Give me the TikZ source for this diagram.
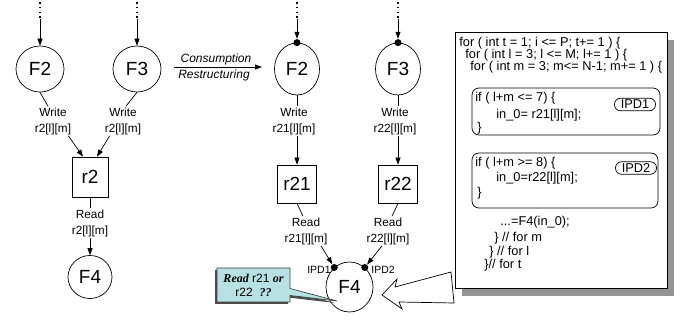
\documentclass[tikz,border=0pt]{standalone}
\usepackage{fontspec}
\setmainfont{Liberation Sans}
\newfontfamily\timesfont{Liberation Serif}
\usetikzlibrary{arrows.meta,shapes.geometric,shapes.callouts,shadows,calc}
\definecolor{callfill}{HTML}{B7E1E2}
\begin{document}
\begin{tikzpicture}[x=1pt,y=-1pt, line width=0.7pt,
  fn/.style={draw, ellipse, inner sep=0pt, font=\fontsize{19}{21}\selectfont},
  reg/.style={draw, rectangle, inner sep=0pt, font=\fontsize{19}{21}\selectfont},
  lbl/.style={align=center, inner sep=1pt, font=\fontsize{11.8}{16}\selectfont},
  arr/.style={-{Triangle[length=7pt,width=5pt]}},
  dotnode/.style={circle, fill=black, inner sep=0pt, minimum size=7pt},
  dots/.style={line width=1.6pt, dash pattern=on 1.6pt off 3.2pt},
  small/.style={inner sep=0pt, font=\fontsize{10.5}{12}\selectfont},
  codeline/.style={anchor=west, inner sep=0pt, font=\fontsize{12.8}{14}\selectfont},
  pill/.style={draw, rounded corners=6pt, inner sep=1pt, minimum width=41pt, minimum height=12.5pt, font=\fontsize{12.8}{14}\selectfont},
  ifbox/.style={draw, rounded corners=7pt, inner sep=0pt}
]
\useasboundingbox (0,0) rectangle (683,320);

% ---------- left graph ----------
\node[fn, minimum width=48pt, minimum height=46pt] (F2L) at (40,69) {F2};
\node[fn, minimum width=48pt, minimum height=46pt] (F3L) at (137,69) {F3};
\node[reg, minimum width=36pt, minimum height=40pt] (r2) at (90,177) {r2};
\node[fn, minimum width=44pt, minimum height=43pt] (F4L) at (90,277) {F4};
\node[lbl] (wl1) at (53,121) {Write\\r2[l][m]};
\node[lbl] (wl2) at (123,121) {Write\\r2[l][m]};
\node[lbl] (rl) at (90,223) {Read\\r2[l][m]};

\coordinate (tL1a) at (40,2); \coordinate (tL1) at (40,19);
\coordinate (tL2a) at (137,2); \coordinate (tL2) at (137,19);
\draw[dots] (tL1a) -- (tL1);
\draw[dots] (tL2a) -- (tL2);
\draw[arr] (tL1) -- (F2L.north);
\draw[arr] (tL2) -- (F3L.north);
\draw (F2L.south) -- ([xshift=-5pt]wl1.north);
\draw[arr] ([xshift=-4pt]wl1.south east) -- ([xshift=-7pt]r2.north);
\draw (F3L.south) -- ([xshift=3pt]wl2.north);
\draw[arr] ([xshift=6pt]wl2.south west) -- ([xshift=7pt]r2.north);
\draw (r2.south) -- (rl.north);
\draw[arr] (rl.south) -- (F4L.north);

% ---------- transformation arrow ----------
\coordinate (c1) at (174,67);
\coordinate (c2) at (262,67);
\draw[arr] (c1) -- (c2);
\node[inner sep=0pt, font=\itshape\fontsize{12}{14}\selectfont] (cons) at (216,59.5) {Consumption};
\node[inner sep=0pt, font=\itshape\fontsize{12}{14}\selectfont] (rest) at (214,75.5) {Restructuring};

% ---------- right graph ----------
\node[fn, minimum width=45pt, minimum height=52pt] (F2M) at (297,69) {F2};
\node[fn, minimum width=45pt, minimum height=52pt] (F3M) at (398,69) {F3};
\node[reg, minimum width=39pt, minimum height=38pt] (r21) at (297,184) {r21};
\node[reg, minimum width=39pt, minimum height=38pt] (r22) at (398,184) {r22};
\node[lbl] (wm1) at (294,121) {Write\\r21[l][m]};
\node[lbl] (wm2) at (395,121) {Write\\r22[l][m]};
\node[lbl] (rm1) at (306,231) {Read\\r21[l][m]};
\node[lbl] (rm2) at (388,231) {Read\\r22[l][m]};
\node[fn, minimum width=47pt, minimum height=50pt] (F4M) at (349.5,287) {F4};

\node[dotnode] (dF2) at (F2M.north) {};
\node[dotnode] (dF3) at (F3M.north) {};
\node[dotnode] (d1) at (F4M.128) {};
\node[dotnode] (d2) at (F4M.52) {};
\node[small, anchor=east] (ipd1) at (331,270) {IPD1};
\node[small, anchor=west] (ipd2) at (371,270) {IPD2};

\coordinate (tM1a) at (297,2); \coordinate (tM1) at (297,19);
\coordinate (tM2a) at (398,2); \coordinate (tM2) at (398,19);
\draw[dots] (tM1a) -- (tM1);
\draw[dots] (tM2a) -- (tM2);
\draw[arr] (tM1) -- (dF2);
\draw[arr] (tM2) -- (dF3);
\draw (F2M.south) -- ([xshift=3pt]wm1.north);
\draw[arr] ([xshift=3pt]wm1.south) -- (r21.north);
\draw (F3M.south) -- ([xshift=3pt]wm2.north);
\draw[arr] ([xshift=3pt]wm2.south) -- (r22.north);
\draw (r21.south) -- ([xshift=-3pt]rm1.north);
\draw[arr] ([xshift=15pt]rm1.south) -- (d1);
\draw (r22.south) -- ([xshift=4pt]rm2.north);
\draw[arr] ([xshift=-6pt]rm2.south) -- (d2);

% ---------- callout ----------
\coordinate (ptip) at ($(F4M.center)+(-12.5,14)$);
\node[rectangle callout, draw=black!75, fill=callfill, callout absolute pointer={(ptip)},
      callout pointer width=7pt, minimum width=73pt, minimum height=34pt, inner sep=0pt,
      align=center, font=\fontsize{12}{14}\selectfont,
      drop shadow={shadow xshift=-2pt, shadow yshift=-2pt, fill=black!70, opacity=1}]
      (call) at (253.5,285)
      {{\timesfont\bfseries\itshape Read} r21 {\timesfont\bfseries\itshape or}\\r22\ \ {\timesfont\bfseries\itshape ??}};

% ---------- hollow arrow ----------
\draw[fill=white] (382,295) -- (397,279) -- (395,287) -- (451,272) -- (454,303) -- (399,302) -- (402,309) -- cycle;

% ---------- code box ----------
\node[draw, fill=white, minimum width=212pt, minimum height=256pt, inner sep=0pt,
      drop shadow={shadow xshift=7pt, shadow yshift=-8pt, fill=black!42, opacity=1}]
      (code) at (561,160) {};
\node[codeline] (l1) at (459,43) {for ( int t = 1; i <= P; t+= 1 ) \{};
\node[codeline] (l2) at (465,55) {for ( int l = 3; l <= M; l+= 1 ) \{};
\node[codeline] (l3) at (470,67) {for ( int m = 3; m<= N-1; m+= 1 ) \{};
\node[ifbox, minimum width=188pt, minimum height=47pt] (b1) at (566,111.5) {};
\node[codeline] (l4) at (475,98) {if ( l+m <= 7) \{};
\node[codeline] (l5) at (496,115) {in\_0= r21[l][m];};
\node[codeline] (l6) at (477,128) {\}};
\node[pill] (p1) at (635,104.5) {IPD1};
\node[ifbox, minimum width=186pt, minimum height=55pt] (b2) at (565,180.5) {};
\node[codeline] (l7) at (475,163) {if ( l+m >= 8) \{};
\node[codeline] (l8) at (496,178) {in\_0=r22[l][m];};
\node[codeline] (l9) at (477,193) {\}};
\node[pill] (p2) at (636,168) {IPD2};
\node[codeline] (l10) at (500,222) {...=F4(in\_0);};
\node[codeline] (l11) at (494,238) {\} // for m};
\node[codeline] (l12) at (489,252) {\} // for l};
\node[codeline] (l13) at (484,265) {\}// for t};
\end{tikzpicture}
\end{document}
